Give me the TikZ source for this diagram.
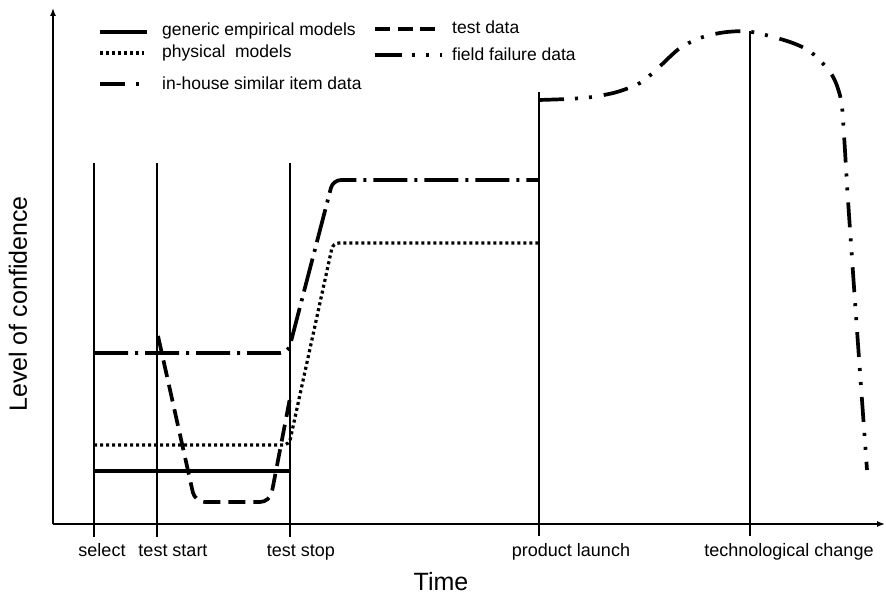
\documentclass[tikz,border=0pt]{standalone}
\usepackage{fontspec}
\setmainfont{Liberation Sans}
\usetikzlibrary{arrows.meta}
\begin{document}
\begin{tikzpicture}[x=1pt,y=-1pt,
  thinline/.style={line width=1.3pt},
  axisline/.style={line width=1.4pt,-{Latex[length=8pt,width=6pt]}},
  generic/.style={line width=3.2pt},
  physical/.style={line width=3.2pt,dash pattern=on 3pt off 3pt},
  testdata/.style={line width=3.7pt,dash pattern=on 17pt off 8pt},
  inhouse/.style={line width=3.7pt,dash pattern=on 34pt off 7pt on 3pt off 7pt},
  field/.style={line width=3.7pt,dash pattern=on 25pt off 11pt on 3pt off 11pt on 3pt off 12pt},
  legtext/.style={anchor=base west,inner sep=0pt,font=\fontsize{17.5}{20}\selectfont},
  ticktext/.style={anchor=base,inner sep=0pt,font=\fontsize{18}{20}\selectfont},
  titletext/.style={anchor=base,inner sep=0pt,font=\fontsize{25}{28}\selectfont}]
\useasboundingbox (0,0) rectangle (886,594);

% axes
\coordinate (O) at (53,524);
\coordinate (ytop) at (53,8);
\coordinate (xend) at (885,524);
\draw[axisline] (O) -- (ytop);
\draw[axisline] (O) -- (xend);

% event lines
\coordinate (selT) at (94,163);   \coordinate (selB) at (94,537);
\coordinate (tsaT) at (157,163);  \coordinate (tsaB) at (157,537);
\coordinate (tsoT) at (290,163);  \coordinate (tsoB) at (290,537);
\coordinate (plT) at (539,92);    \coordinate (plB) at (539,536);
\coordinate (tcT) at (750,31);    \coordinate (tcB) at (750,536);
\draw[thinline] (selT) -- (selB);
\draw[thinline] (tsaT) -- (tsaB);
\draw[thinline] (tsoT) -- (tsoB);
\draw[thinline] (plT) -- (plB);
\draw[thinline] (tcT) -- (tcB);

% tick labels
\node[ticktext] (lsel) at (102,556) {select};
\node[ticktext] (ltsa) at (173,556) {test start};
\node[ticktext] (ltso) at (301,556) {test stop};
\node[ticktext] (lpl) at (571,556) {product launch};
\node[ticktext] (ltc) at (789,556) {technological change};

% axis titles
\node[titletext] (xtitle) at (441,590) {Time};
\node[titletext,rotate=90] (ytitle) at (27,304) {Level of confidence};

% curves
\draw[generic] (94,471) -- (290,471);
\draw[physical,rounded corners=6pt] (94,445) -- (289,445) -- (333,243) -- (539,243);
\draw[inhouse,rounded corners=8pt] (94,353) -- (288,353) -- (333,180) -- (539,180);
\draw[testdata,rounded corners=10pt] (158,336) -- (195,502) -- (270,502) -- (290,398);
\draw[field] plot[smooth,tension=0.5] coordinates {(539,100) (567,99) (592,97) (617,92) (640,83) (656,70) (680,48) (703,37) (727,32) (752,32) (790,42) (812,53) (832,75) (841,100) (844,135) (848,200) (857,330) (867,470)};

% legend
\draw[generic] (100,32) -- (147,32);
\node[legtext] (lg1) at (162,36) {generic empirical models};
\draw[physical] (100,53) -- (144,53);
\node[legtext] (lg2) at (162,58) {physical\ \ models};
\draw[line width=3.7pt,dash pattern=on 25pt off 11pt on 3pt off 20pt] (100,84) -- (139,84);
\node[legtext] (lg3) at (162,89) {in-house similar item data};
\draw[line width=3.7pt,dash pattern=on 15pt off 7.5pt] (375,29) -- (435,29);
\node[legtext] (lg4) at (452,34) {test data};
\draw[line width=3.7pt,dash pattern=on 27pt off 10pt on 3pt off 11pt on 3pt off 11pt on 3pt off 20pt] (375,55) -- (442,55);
\node[legtext] (lg5) at (452,60) {field failure data};
\end{tikzpicture}
\end{document}
